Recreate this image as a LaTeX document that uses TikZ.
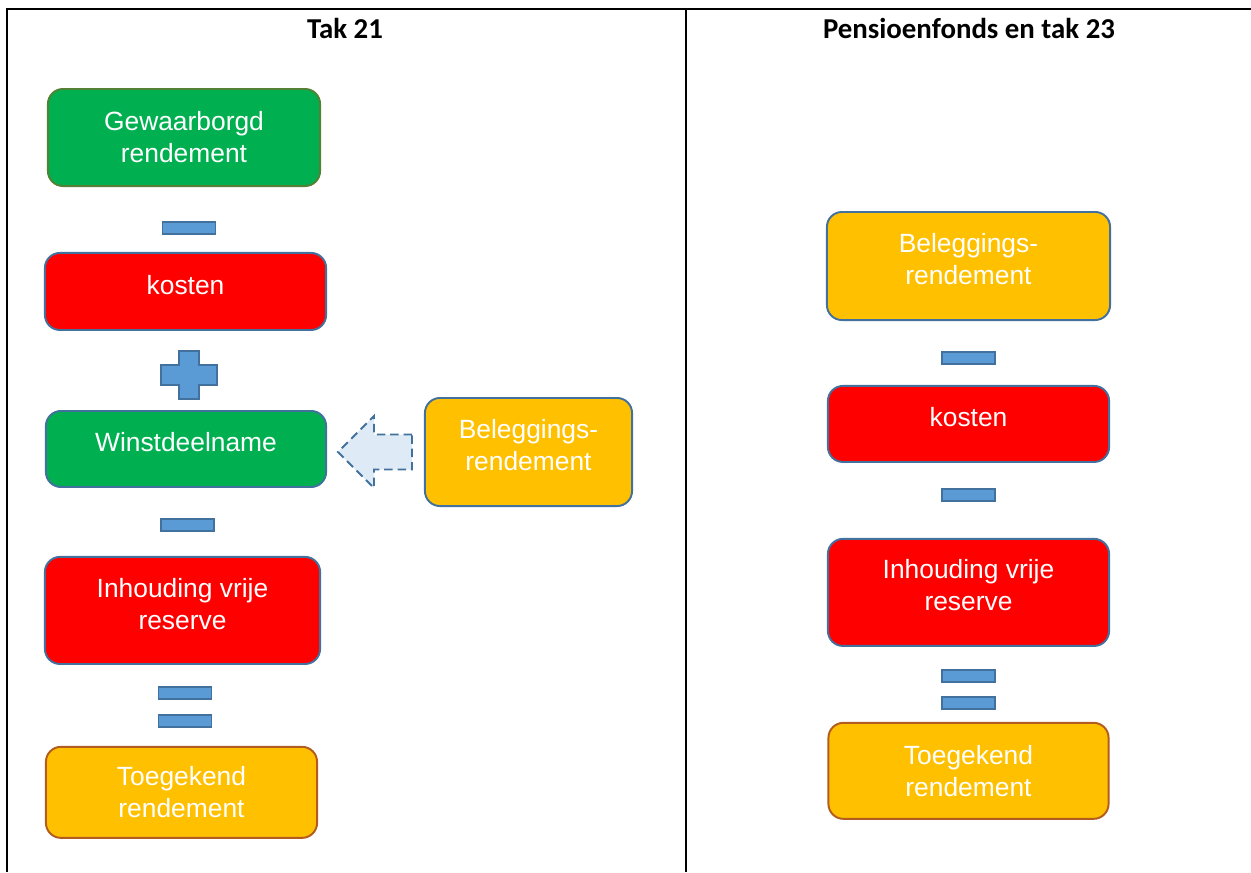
\documentclass[tikz,border=0pt]{standalone}
\usepackage{fontspec}
\setmainfont{Liberation Sans}
\newfontfamily\hdrfont{Carlito}
\usetikzlibrary{positioning}
\pgfdeclarelayer{background1}
\pgfsetlayers{background1,main}

\begin{document}
\begin{tikzpicture}[x=0.01cm, y=-0.01cm,
	tbox/.style={rectangle, rounded corners=0.15cm, line width=0.55pt, draw=edgecolor, align=center, text=white, inner sep=0pt, font=\fontsize{7.5}{9.1}\selectfont},
	tboxup/.style={tbox, text depth=0.14cm},
	opbar/.style={rectangle, line width=0.55pt, draw=edgecolor, fill=opcolor, inner sep=0pt, minimum width=0.53cm, minimum height=0.12cm},
	hdr/.style={font=\hdrfont\bfseries\fontsize{8.2}{10}\selectfont}]

	\definecolor{edgecolor}{RGB}{65,113,156}
	\definecolor{opcolor}{RGB}{91,155,213}
	\definecolor{greencolor}{RGB}{0,176,80}
	\definecolor{redcolor}{RGB}{255,0,0}
	\definecolor{goldcolor}{RGB}{255,192,0}
	\definecolor{olivecolor}{RGB}{84,130,53}
	\definecolor{browncolor}{RGB}{178,92,32}
	\definecolor{arrowcolor}{RGB}{222,235,247}

	\useasboundingbox (0,0) rectangle (1251,872);

	\node(h1) [hdr] at (345,28) {Tak 21};
	\node(h2) [hdr] at (969,28) {Pensioenfonds en tak 23};

	\node(g1) [tbox, fill=greencolor, draw=olivecolor, minimum width=2.72cm, minimum height=0.97cm] at (184,137.5) {Gewaarborgd\\rendement};
	\node(m1) [opbar, below=0.34cm of g1, xshift=0.05cm]{};
	\node(k1) [tboxup, fill=redcolor, below=0.17cm of g1.south |- m1.south, minimum width=2.81cm, minimum height=0.77cm, xshift=0.015cm]{kosten};
	\node(p1) [below=0.19cm of k1, minimum width=0.58cm, minimum height=0.5cm, inner sep=0pt, outer sep=0pt, xshift=0.035cm]{};
	\node(w1) [tboxup, fill=greencolor, below=0.1cm of k1.south |- p1.south, minimum width=2.8cm, minimum height=0.76cm, xshift=0.005cm]{Winstdeelname};
	\node(m2) [opbar, below=0.3cm of w1, xshift=0.015cm]{};
	\node(i1) [tboxup, fill=redcolor, below=0.24cm of w1.south |- m2.south, minimum width=2.75cm, minimum height=1.07cm, xshift=-0.035cm]{Inhouding vrije\\reserve};
	\node(e1) [opbar, below=0.21cm of i1, xshift=0.025cm]{};
	\node(f1) [opbar, below=0.14cm of e1]{};
	\node(t1) [tbox, fill=goldcolor, draw=browncolor, below=0.18cm of i1.south |- f1.south, minimum width=2.71cm, minimum height=0.91cm, xshift=-0.01cm]{Toegekend\\rendement};

	\node(b1) [tboxup, fill=goldcolor, minimum width=2.07cm, minimum height=1.08cm] at (528.5,452) {Beleggings-\\rendement};

	\draw[line width=0.55pt, draw=edgecolor, fill=opcolor, shift={(p1.center)}] (-10,-24) -- (10,-24) -- (10,-10) -- (28,-10) -- (28,10) -- (10,10) -- (10,24) -- (-10,24) -- (-10,10) -- (-28,10) -- (-28,-10) -- (-10,-10) -- cycle;
	\draw[line width=0.55pt, draw=edgecolor, fill=arrowcolor, dash pattern=on 2.4pt off 1.4pt, shift={(b1.west)}] (-12,-17.5) -- (-50,-17.5) -- (-50,-36) -- (-86,0) -- (-50,36) -- (-50,17.5) -- (-12,17.5) -- cycle;

	\node(b2) [tboxup, fill=goldcolor, minimum width=2.83cm, minimum height=1.08cm] at (968.5,266) {Beleggings-\\rendement};
	\node(m3) [opbar, below=0.3cm of b2]{};
	\node(k2) [tboxup, fill=redcolor, below=0.2cm of m3, minimum width=2.81cm, minimum height=0.76cm]{kosten};
	\node(m4) [opbar, below=0.25cm of k2]{};
	\node(i2) [tboxup, fill=redcolor, below=0.36cm of m4, minimum width=2.81cm, minimum height=1.07cm]{Inhouding vrije\\reserve};
	\node(e2) [opbar, below=0.22cm of i2]{};
	\node(f2) [opbar, below=0.13cm of e2]{};
	\node(t2) [tbox, fill=goldcolor, draw=browncolor, below=0.12cm of f2, minimum width=2.8cm, minimum height=0.96cm]{Toegekend\\rendement};

	\begin{pgfonlayer}{background1}
		\draw [line width=0.57pt] (7,872) -- (7,9) -- (1251,9);
		\draw [line width=0.57pt] (686,9) -- (686,872);
	\end{pgfonlayer}

\end{tikzpicture}
\end{document}
